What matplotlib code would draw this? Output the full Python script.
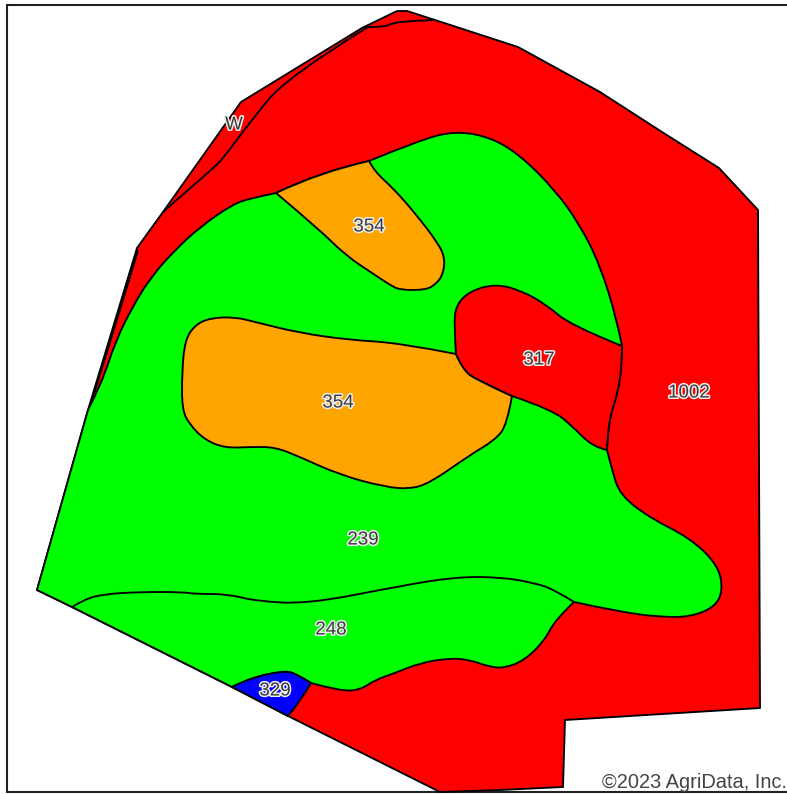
import matplotlib
matplotlib.use("Agg")
import matplotlib.pyplot as plt
import matplotlib.patheffects as pe
from matplotlib.path import Path
from matplotlib.patches import PathPatch, Rectangle

plt.rcParams['font.family'] = ['Liberation Sans', 'DejaVu Sans']

field_outline = [(397,11),(407,11),(435,20),(518,47),(600,92),(662,132),(719,168),(758,210),(760,708),(565,720),(563,787),(500,790),(440,792),(400,772),(288,716),(232,687),(72,607),(37,590),(88,410),(137,248),(163,212),(241,102),(290,72),(362,28)]
inner_line_a = [(368,27),(385,27),(392,23),(410,21),(433,20)]
inner_line_b = [(368,27),(287,77),(250,122),(222,160),(211,170),(163,212)]
inner_line_c = [(138,250),(128,285),(92,400)]
soil_239 = [(88,410),(101,385),(116,340),(133,306),(151,277),(175,250),(200,227),(233,204),(252,198),(276,193),(320,172),(369,161),(420,140),(455,131),(490,137),(520,155),(555,190),(580,225),(600,265),(617,320),(622,346),(622,363),(618,393),(608,422),(607,450),(612,470),(620,495),(650,518),(690,538),(718,565),(723,590),(715,607),(690,617),(660,617),(620,612),(574,602),(555,620),(545,640),(525,660),(505,668),(490,667),(470,660),(450,658),(420,663),(395,673),(375,680),(360,690),(340,691),(311,683),(295,673),(283,671),(250,678),(232,687),(72,607),(37,590)]
soil_divide = [(72,607),(85,599),(105,594),(140,592),(182,592),(195,594),(228,594),(255,601),(308,604),(400,586),(455,577),(500,577),(535,583),(555,590),(574,602)]
soil_354_top = [(276,193),(320,172),(369,161),(375,172),(392,187),(415,213),(438,243),(445,258),(443,275),(435,285),(425,290),(400,290),(390,285),(375,275),(345,255),(320,230)]
soil_354_big = [(182,372),(185,340),(195,325),(210,318),(235,317),(255,322),(300,333),(350,340),(400,343),(456,354),(463,370),(477,380),(512,396),(507,425),(495,440),(470,455),(430,483),(410,489),(385,487),(340,475),(300,457),(275,447),(250,447),(225,448),(205,440),(190,425),(182,410)]
soil_317 = [(456,354),(454,325),(456,305),(470,291),(495,284),(520,290),(547,305),(570,325),(622,346),(622,363),(618,393),(608,422),(607,450),(593,447),(573,427),(553,410),(512,396),(477,380),(463,370)]
soil_329 = [(232,687),(250,678),(283,671),(295,673),(311,683),(300,702),(288,716)]

corners_239 = [(88,410),(276,193),(369,161),(622,346),(607,450),(574,602),(311,683),(232,687),(72,607),(37,590)]
corners_top = [(276,193),(369,161)]
corners_big = [(456,354),(512,396)]
corners_317 = [(456,354),(622,346),(607,450),(512,396)]
corners_329 = [(232,687),(311,683),(288,716)]

label_text = ['W','354','354','317','1002','239','248','329']
label_x = [234,369,338,539,689,363,331,275]
label_y = [125,227,403,360,393,540,630,691]


def smooth_path(pts, corners=(), closed=True):
    """Quadratic-curve path through midpoints; vertices listed in corners stay sharp."""
    corners = set(corners)
    if closed:
        k = next((i for i, p in enumerate(pts) if p in corners), None)
        if k is None:
            k = 0
            corners.add(pts[0])
        seq = pts[k:] + pts[:k] + [pts[k]]
    else:
        seq = list(pts)
        corners |= {pts[0], pts[-1]}
    verts, codes = [seq[0]], [Path.MOVETO]
    i = 0
    while i < len(seq) - 1:
        j = i + 1
        while seq[j] not in corners:
            j += 1
        sec = seq[i:j + 1]
        for m in range(1, len(sec) - 1):
            c = sec[m]
            n = sec[m + 1]
            end = n if m == len(sec) - 2 else ((c[0] + n[0]) / 2, (c[1] + n[1]) / 2)
            verts += [c, end]
            codes += [Path.CURVE3, Path.CURVE3]
        if len(sec) == 2:
            verts.append(sec[1])
            codes.append(Path.LINETO)
        i = j
    return Path(verts, codes)


fig = plt.figure(figsize=(7.87, 7.94), dpi=100)
ax = fig.add_axes([0, 0, 1, 1])
ax.set_xlim(0, 787)
ax.set_ylim(794, 0)
ax.axis('off')

lw = 1.35
ax.add_patch(Rectangle((7, 5), 790, 787, fc='white', ec='#222222', lw=1.5, zorder=0))
ax.add_patch(PathPatch(Path(field_outline + [field_outline[0]]), fc='#ff0000', ec='black', lw=lw, joinstyle='round', zorder=2))
for pts, cor, c in [(soil_239, corners_239, '#00ff00'), (soil_354_top, corners_top, '#ffa500'),
                    (soil_354_big, corners_big, '#ffa500'), (soil_317, corners_317, '#ff0000'),
                    (soil_329, corners_329, '#0000ff')]:
    ax.add_patch(PathPatch(smooth_path(pts, cor), fc=c, ec='black', lw=lw, joinstyle='round', zorder=2))
for pts in [inner_line_a, inner_line_b, inner_line_c]:
    ax.add_patch(PathPatch(smooth_path(pts, closed=False), fc='none', ec='black', lw=lw, zorder=3))
ax.add_patch(PathPatch(smooth_path(soil_divide, closed=False), fc='none', ec='black', lw=lw, zorder=3))
for t, x, y in zip(label_text, label_x, label_y):
    ax.text(x, y, t, ha='center', va='center', fontsize=13.5, color='#3a3a3a', zorder=5,
            path_effects=[pe.withStroke(linewidth=2.2, foreground='#eeeeee')])
ax.text(787, 783, '©2023 AgriData, Inc.', ha='right', va='center', fontsize=14.4, color='#444444', zorder=5)
fig.savefig('out.png', dpi=100)
